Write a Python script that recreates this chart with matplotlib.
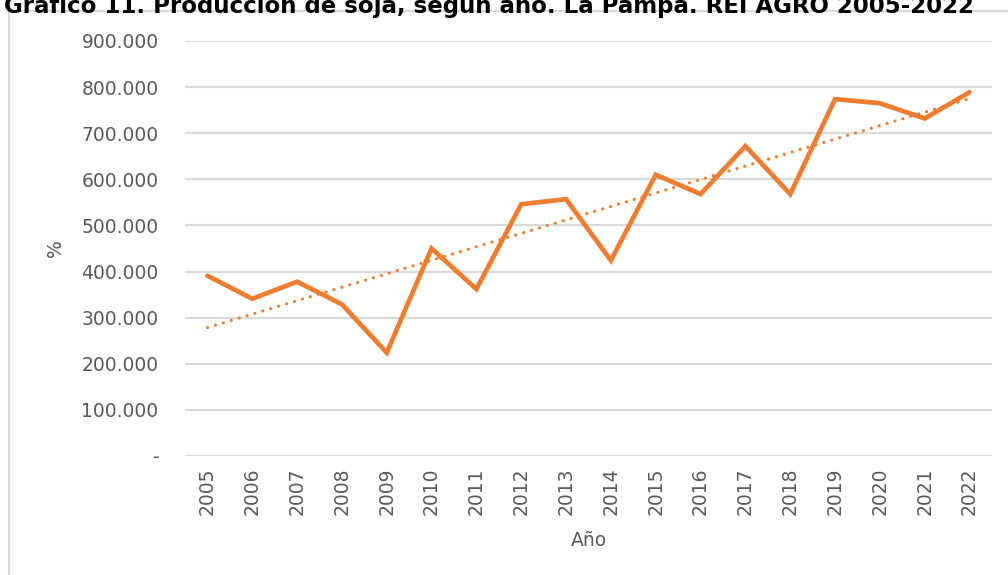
import numpy as np
import matplotlib.pyplot as plt
from matplotlib.lines import Line2D
from matplotlib.ticker import FuncFormatter

# Datos
years = [2005, 2006, 2007, 2008, 2009, 2010, 2011, 2012, 2013,
         2014, 2015, 2016, 2017, 2018, 2019, 2020, 2021, 2022]
production = [391000, 341000, 378000, 329000, 224000, 450000, 362000, 546000, 557000,
              424000, 610000, 568000, 672000, 568000, 774000, 765000, 732000, 789000]
y_ticks = [0, 100000, 200000, 300000, 400000, 500000, 600000, 700000, 800000, 900000]

title = "Gráfico 11. Producción de soja, según año. La Pampa. REI AGRO 2005-2022"
orange = '#ED7D31'
grid_gray = '#D9D9D9'
text_gray = '#595959'

fig = plt.figure(figsize=(10.08, 5.75), dpi=100)
ax = fig.add_axes([185 / 1008, 1 - 456 / 575, 807 / 1008, 415 / 575])

x = np.arange(len(years))
ax.plot(x, production, color=orange, linewidth=3.4, solid_joinstyle='miter',
        solid_capstyle='round', zorder=3)

# linea de tendencia lineal (como en Excel)
slope, intercept = np.polyfit(x, production, 1)
ax.plot(x, slope * x + intercept, color=orange, linewidth=2.2,
        linestyle=(0, (0.1, 2.6)), dash_capstyle='round', zorder=2)

ax.set_xlim(-0.5, len(years) - 0.5)
ax.set_ylim(0, 900000)
ax.set_yticks(y_ticks)
ax.yaxis.set_major_formatter(FuncFormatter(
    lambda v, p: '-' if v == 0 else f'{int(v):,}'.replace(',', '.')))
ax.set_xticks(x)
ax.set_xticklabels([str(y) for y in years], rotation=90)

ax.grid(axis='y', color=grid_gray, linewidth=1.5)
ax.set_axisbelow(True)
for s in ax.spines.values():
    s.set_visible(False)
ax.tick_params(axis='both', length=0, colors=text_gray, labelsize=13.5)
ax.tick_params(axis='y', pad=19)
ax.tick_params(axis='x', pad=8)

ax.set_ylabel('%', color=text_gray, fontsize=13.5, labelpad=12)
ax.set_xlabel('Año', color=text_gray, fontsize=13.5, labelpad=12)

# marco del grafico
fig.add_artist(Line2D([9 / 1008, 9 / 1008], [0, 1 - 11 / 575], color=grid_gray, linewidth=1.5))
fig.add_artist(Line2D([9 / 1008, 1], [1 - 11 / 575, 1 - 11 / 575], color=grid_gray, linewidth=1.5))

fig.text(4 / 1008, 1 - 13 / 575, title, fontsize=16.5, fontweight='bold',
         color='black', va='baseline', ha='left')

fig.savefig('out.png', dpi=100)
